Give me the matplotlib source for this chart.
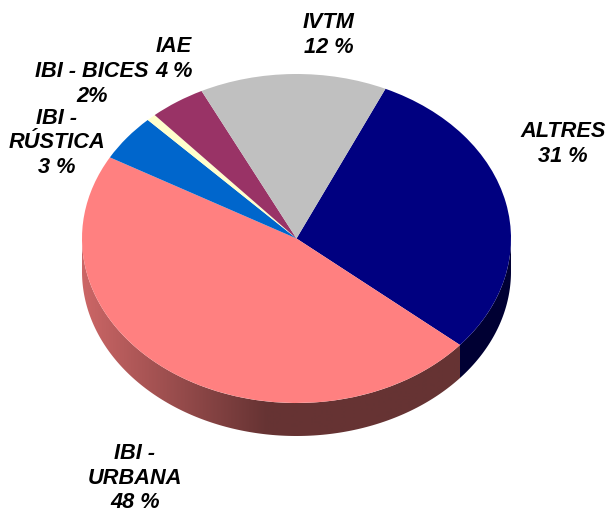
import numpy as np
import matplotlib
matplotlib.use('Agg')
import matplotlib.pyplot as plt
from matplotlib.colors import to_rgb
from matplotlib.patches import Polygon

W, H = 608, 512

# slice sizes as drawn (the printed labels do not quite agree with them)
names = ['ALTRES', 'IBI - URBANA', 'IBI - RÚSTICA', 'IBI - BICES', 'IAE', 'IVTM']
shares = [29.4, 47.0, 4.6, 0.7, 4.2, 14.1]
colors = ['#000080', '#FF8080', '#0066CC', '#FFFFCC', '#993366', '#C0C0C0']
labels = ['ALTRES\n31 %', 'IBI -\nURBANA\n48 %', 'IBI -\nRÚSTICA\n3 %',
          'IBI - BICES\n2%', 'IAE\n4 %', 'IVTM\n12 %']
label_xy = [(563, 144), (135, 478), (57, 143), (92, 84), (174, 59), (329, 35)]

plt.rcParams['font.family'] = ['Liberation Sans', 'DejaVu Sans']

fig = plt.figure(figsize=(W / 100, H / 100), dpi=100)
ax = fig.add_axes([0, 0, 1, 1])
# pie centre and radii in pixels of the picture
cx, cy, rx, ry = 296.5, 238.5, 214.5, 164.5
depth = 33 / ry

wedges, _ = ax.pie(shares, colors=colors, startangle=65.5, counterclock=False,
                   wedgeprops=dict(linewidth=0, zorder=5))
ax.set_aspect('auto')


def shade(x):
    # side wall gets darker going right, then stays flat
    return np.interp(x, [-1, -0.14, 1], [0.80, 0.40, 0.40])


for w in wedges:
    a = np.radians(np.linspace(w.theta1, w.theta2, 200)) % (2 * np.pi)
    a = a[a > np.pi]
    if len(a) < 2:
        continue
    a = np.sort(a)
    x, y = np.cos(a), np.sin(a)
    poly = Polygon(np.r_[np.c_[x, y], np.c_[x, y - depth][::-1]], closed=True,
                   transform=ax.transData, facecolor='none', edgecolor='none')
    ax.add_patch(poly)
    xs = np.linspace(-1, 1, 430)
    rgb = np.array(to_rgb(w.get_facecolor()))
    img = shade(xs)[None, :, None] * rgb[None, None, :]
    im = ax.imshow(img, extent=(-1, 1, -1 - depth, 1), aspect='auto', zorder=2)
    im.set_clip_path(poly)

ax.set_xlim(-cx / rx, (W - cx) / rx)
ax.set_ylim((cy - H) / ry, cy / ry)
ax.axis('off')

for txt, (px, py) in zip(labels, label_xy):
    fig.text(px / W, 1 - py / H, txt, ha='center', va='center', fontsize=15.7,
             fontweight='bold', fontstyle='italic', color='black', linespacing=1.2)

fig.savefig('out.png', dpi=100)
